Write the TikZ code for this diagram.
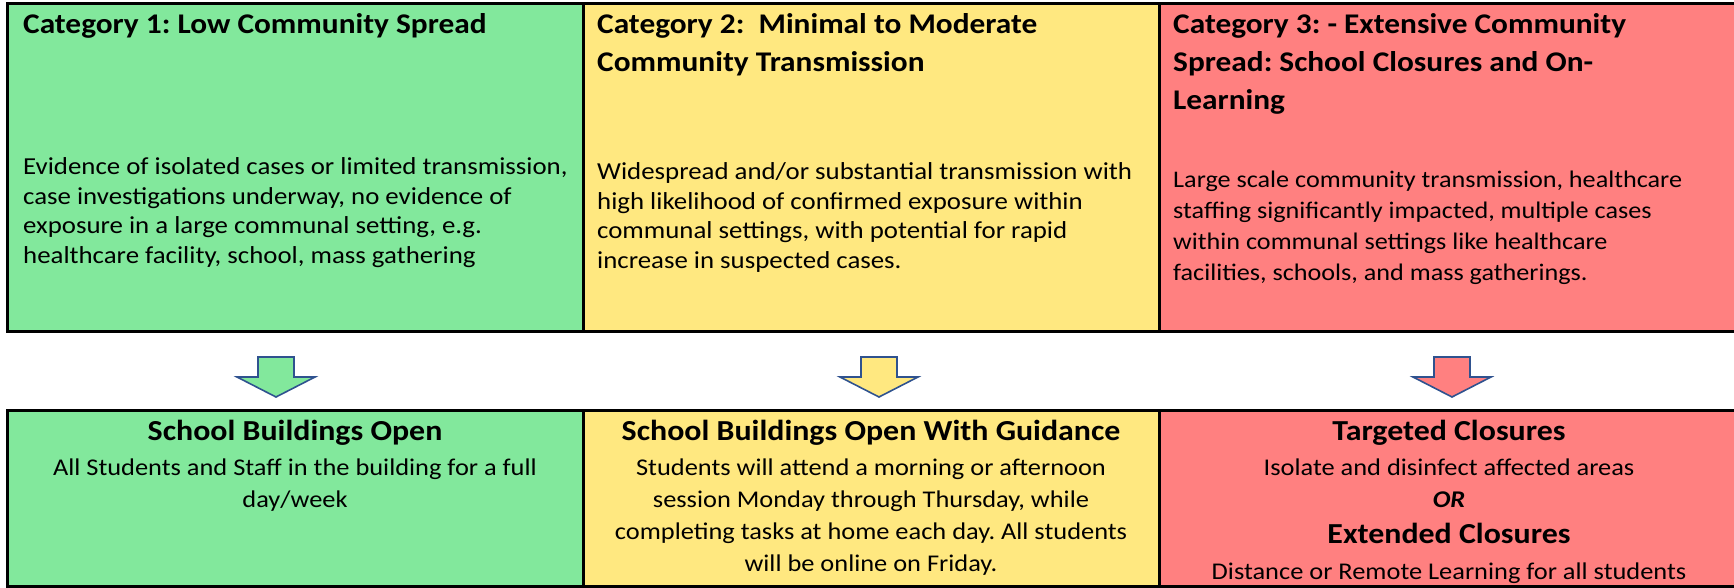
\documentclass[tikz,border=0pt]{standalone}
\usepackage{fontspec}
\setmainfont{Carlito}[FakeStretch=1.1]
\frenchspacing
\usetikzlibrary{positioning}
\definecolor{lowgreen}{RGB}{130,232,156}
\definecolor{midyellow}{RGB}{255,232,128}
\definecolor{highred}{RGB}{255,128,128}
\definecolor{arrowblue}{RGB}{47,82,143}

\begin{document}
\begin{tikzpicture}[x=1pt,y=-1pt,
                cat head/.style={anchor=base west, inner sep=0pt, align=left, font=\fontsize{28.5}{38}\selectfont\bfseries},
                cat text/.style={anchor=base west, inner sep=0pt, align=left, font=\fontsize{24.4}{29.5}\selectfont},
                act head/.style={anchor=base, inner sep=0pt, align=center, font=\fontsize{29}{36}\selectfont\bfseries},
                act text/.style={anchor=base, inner sep=0pt, align=center, font=\fontsize{24}{32}\selectfont},
                down arrow/.style={draw=arrowblue, line width=1.6pt, line join=miter}]
                \useasboundingbox (0,0) rectangle (1734,588);

                % Category boxes (top row)
                \draw[line width=3pt, fill=lowgreen] (7,4) rectangle (583,331);
                \draw[line width=3pt, fill=midyellow] (583,4) rectangle (1159,331);
                \draw[line width=3pt, fill=highred] (1159,4) rectangle (1745,331);

                % Action boxes (bottom row)
                \draw[line width=3pt, fill=lowgreen] (7,410) rectangle (583,586);
                \draw[line width=3pt, fill=midyellow] (583,410) rectangle (1159,586);
                \draw[line width=3pt, fill=highred] (1159,410) rectangle (1745,586);

                % Block arrows between the rows
                \foreach \ax/\acol in {276/lowgreen, 879/midyellow, 1452/highred}
                    \draw[down arrow, fill=\acol] (\ax-18,357) -- (\ax+18,357) -- (\ax+18,377)
                        -- (\ax+39,377) -- (\ax,397) -- (\ax-39,377) -- (\ax-18,377) -- cycle;

                % Category 1 (multi-line nodes sit on their last baseline)
                \node[cat head] (c1head) at (23,34) {Category 1: Low Community Spread};
                \node[cat text] (c1text) at (23,263) {Evidence of isolated cases or limited transmission,\\
                    case investigations underway, no evidence of\\
                    exposure in a large communal setting, e.g.\\
                    healthcare facility, school, mass gathering};

                % Category 2
                \node[cat head] (c2head) at (597,72) {Category 2:\ \ Minimal to Moderate\\ Community Transmission};
                \node[cat text] (c2text) at (597,268) {Widespread and/or substantial transmission with\\
                    high likelihood of confirmed exposure within\\
                    communal settings, with potential for rapid\\
                    increase in suspected cases.};

                % Category 3
                \node[cat head] (c3head) at (1173,110) {Category 3: - Extensive Community\\
                    Spread: School Closures and On-\\ Learning};
                \node[cat text, font=\fontsize{23.8}{31}\selectfont] (c3text) at (1173,280) {Large scale community transmission, healthcare\\
                    staffing significantly impacted, multiple cases\\
                    within communal settings like healthcare\\
                    facilities, schools, and mass gatherings.};

                % Actions
                \node[act head] (a1head) at (295,440) {School Buildings Open};
                \node[act text] (a1text) at (295,507) {All Students and Staff in the building for a full\\ day/week};

                \node[act head] (a2head) at (871,440) {School Buildings Open With Guidance};
                \node[act text] (a2text) at (871,571) {Students will attend a morning or afternoon\\
                    session Monday through Thursday, while\\
                    completing tasks at home each day. All students\\
                    will be online on Friday.};

                \node[act head] (a3head) at (1449,440) {Targeted Closures};
                \node[act text] (a3text) at (1449,475) {Isolate and disinfect affected areas};
                \node[act text, font=\fontsize{24}{32}\selectfont\bfseries\itshape] (a3or) at (1449,507) {OR};
                \node[act head] (a3head2) at (1449,543) {Extended Closures};
                \node[act text] (a3text2) at (1449,579) {Distance or Remote Learning for all students};
            \end{tikzpicture}
\end{document}
